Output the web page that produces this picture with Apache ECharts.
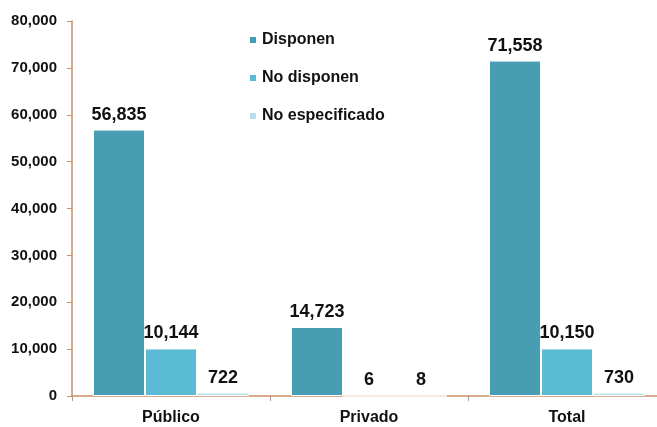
<!DOCTYPE html>
<html><head><meta charset="utf-8">
<script src="https://cdn.jsdelivr.net/npm/echarts@6/dist/echarts.min.js"></script>
<style>html,body{margin:0;padding:0;background:#fff}#c{width:657px;height:427px}</style>
</head><body><div id="c"></div>
<script>
const categories = ["Público", "Privado", "Total"];
const disponen = [56835, 14723, 71558];
const noDisponen = [10144, 6, 10150];
const noEspecificado = [722, 8, 730];
const seriesNames = ["Disponen", "No disponen", "No especificado"];
const yTicks = [0, 10000, 20000, 30000, 40000, 50000, 60000, 70000, 80000];

const FONT = '"Liberation Sans", Arial, sans-serif';
const colors = ["#479EB3", "#5BBBD4", "#B9DEE8"];
const axisColor = "#C8916A";
const fmt = v => v.toLocaleString("en-US");

const chart = echarts.init(document.getElementById("c"), null, {renderer: "canvas"});
const mk = (name, data, i) => ({
  name, type: "bar", data,
  barGap: "0%", barWidth: 52,
  itemStyle: {color: colors[i], borderColor: "#ffffff", borderWidth: 1},
  label: {show: true, position: "top", distance: 6, formatter: p => fmt(p.value),
    fontFamily: FONT, fontWeight: "bold", fontSize: 18, color: "#111"}
});
chart.setOption({
  animation: false,
  textStyle: {fontFamily: FONT},
  color: colors,
  legend: {
    orient: "vertical", left: 248, top: 30, itemGap: 18, padding: 0,
    itemWidth: 8, itemHeight: 8, icon: "rect",
    textStyle: {fontFamily: FONT, fontWeight: "bold", fontSize: 16, color: "#111", lineHeight: 20},
    data: seriesNames
  },
  grid: {left: 72, width: 594, top: 21, bottom: 31, containLabel: false, outerBoundsMode: "none"},
  xAxis: {
    type: "category", data: categories,
    axisLine: {lineStyle: {color: axisColor, width: 1.5}},
    axisTick: {show: true, length: 5, lineStyle: {color: axisColor}},
    axisLabel: {fontFamily: FONT, fontWeight: "bold", fontSize: 16, color: "#111", margin: 14}
  },
  yAxis: {
    type: "value", min: yTicks[0], max: yTicks[yTicks.length - 1], interval: 10000,
    axisLine: {show: true, lineStyle: {color: axisColor, width: 1.5}},
    axisTick: {show: true, length: 5, lineStyle: {color: axisColor}},
    splitLine: {show: false},
    axisLabel: {fontFamily: FONT, fontWeight: "bold", fontSize: 15, color: "#111", margin: 15,
      formatter: v => fmt(v)}
  },
  series: [mk(seriesNames[0], disponen, 0), mk(seriesNames[1], noDisponen, 1), mk(seriesNames[2], noEspecificado, 2)]
});
</script></body></html>
